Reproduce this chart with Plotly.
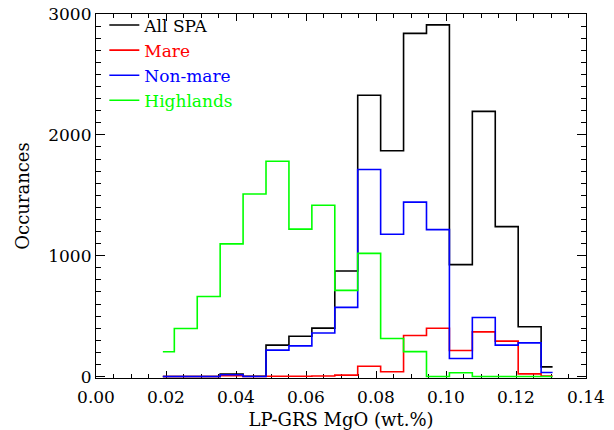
import plotly.graph_objects as go

# Bin centres of the MgO histogram (wt.%)
mgo_bins = [0.0191, 0.02565, 0.0322, 0.03875, 0.0453, 0.05185, 0.0584, 0.06495, 0.0715,
            0.07805, 0.0846, 0.09115, 0.0977, 0.10425, 0.1108, 0.11735, 0.1239, 0.13045]

all_spa   = [0, 0, 0, 20, 3, 260, 333, 401, 873, 2328, 1868, 2840, 2910, 926, 2194, 1241, 412, 80]
mare      = [0, 0, 0, 6, 0, 2, 3, 5, 12, 85, 40, 340, 400, 216, 370, 293, 22, 5]
non_mare  = [0, 0, 0, 15, 0, 219, 254, 360, 572, 1713, 1177, 1443, 1216, 149, 489, 260, 279, 33]
highlands = [205, 398, 663, 1098, 1511, 1782, 1220, 1417, 713, 1019, 315, 206, 0, 31, 0, 0, 0, 0]

series_names = ["All SPA", "Mare", "Non-mare", "Highlands"]
series_colors = ["#000000", "#ff0000", "#0000ff", "#00ff00"]
series_values = [all_spa, mare, non_mare, highlands]

x_ticks = [0.00, 0.02, 0.04, 0.06, 0.08, 0.10, 0.12, 0.14]
y_ticks = [0, 1000, 2000, 3000]

FONT = "DejaVu Serif"

fig = go.Figure()
for name, color, vals in zip(series_names, series_colors, series_values):
    fig.add_trace(go.Scatter(
        x=mgo_bins, y=vals, mode="lines", line=dict(color=color, width=1.6, shape="hvh"),
        name=f"<span style='color:{color}'>{name}</span>",
    ))

axis_common = dict(
    showline=True, linecolor="black", linewidth=1.2, mirror="ticks",
    ticks="inside", tickcolor="black", showgrid=False, zeroline=False,
    tickfont=dict(family=FONT, size=17, color="black"),
    layer="below traces", automargin=False,
)

fig.update_layout(
    width=614, height=430,
    margin=dict(l=96, r=28, t=14, b=52, autoexpand=False),
    paper_bgcolor="white", plot_bgcolor="white",
    font=dict(family=FONT, size=17, color="black"),
    showlegend=True,
    legend=dict(x=0.017, y=1.018, xanchor="left", yanchor="top",
                bgcolor="rgba(0,0,0,0)", borderwidth=0,
                font=dict(family=FONT, size=17), tracegroupgap=0,
                itemwidth=30),
    xaxis=dict(range=[0, 0.14], tickvals=x_ticks, ticktext=[f"{v:.2f}" for v in x_ticks],
               ticklen=7, tickwidth=1.2, ticklabelstandoff=3,
               minor=dict(dtick=0.005, ticklen=3.5, ticks="inside", tickcolor="black", tickwidth=1),
               title=dict(text="LP-GRS MgO (wt.%)", font=dict(family=FONT, size=18), standoff=7),
               **axis_common),
    yaxis=dict(range=[-12, 3000], tickvals=y_ticks, ticktext=[str(v) for v in y_ticks],
               ticklen=9, tickwidth=1.2,
               minor=dict(dtick=100, ticklen=4.5, ticks="inside", tickcolor="black", tickwidth=1),
               title=dict(text="Occurances", font=dict(family=FONT, size=18), standoff=13),
               **axis_common),
)

fig.write_html("out.html")
